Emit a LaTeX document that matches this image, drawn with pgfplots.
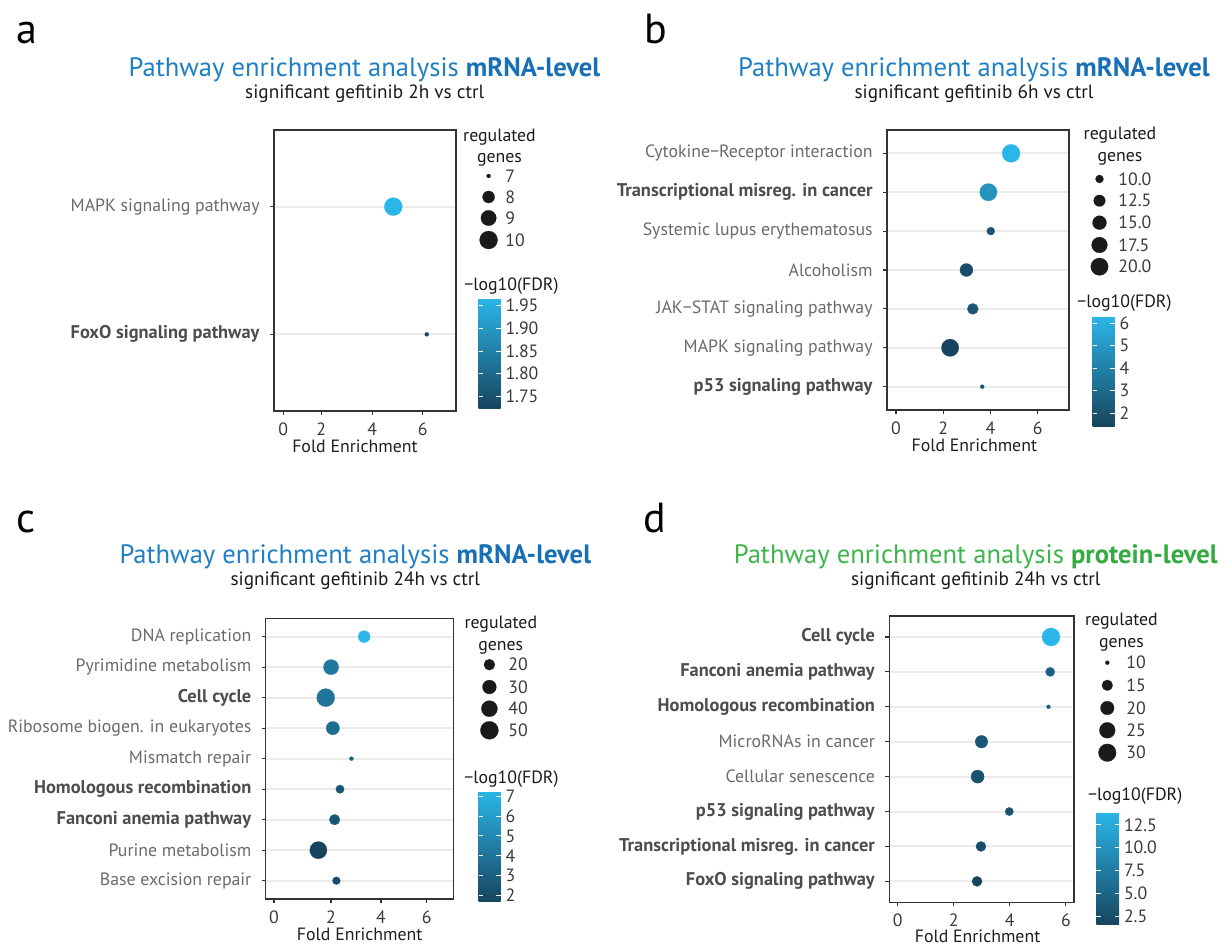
\documentclass[border=0pt]{standalone}
\usepackage{pgfplots}
\pgfplotsset{compat=1.18}
\usepackage{fontspec}
\setmainfont{PT Sans}
\definecolor{axisgray}{HTML}{333333}
\definecolor{gridgray}{HTML}{EBEBEB}
\definecolor{labgray}{HTML}{6A6A6A}
\definecolor{boldgray}{HTML}{4D4D4D}
\definecolor{ticktext}{HTML}{3A3A3A}
\definecolor{titleblue}{HTML}{1E7FC4}
\definecolor{titlebluebold}{HTML}{176FB6}
\definecolor{titlegreen}{HTML}{3DB54A}
\definecolor{titlegreenbold}{HTML}{33AB41}
\definecolor{legblack}{HTML}{1A1A1A}
\newcommand\tf{\fontsize{8.9}{10}\selectfont}
\newcommand\titlefont{\fontsize{13.3}{15}\selectfont}
\newcommand\subfont{\fontsize{9.6}{11}\selectfont}
\newcommand\letfont{\fontsize{21}{24}\selectfont}
\newcommand\nl[1]{\textcolor{labgray}{#1}}
\newcommand\bl[1]{\textcolor{boldgray}{\fontsize{9.2}{10}\selectfont\textbf{#1}}}
\pgfplotsset{
 panel/.style={
  scale only axis, anchor=south west,
  axis line style={draw=axisgray, line width=0.6pt},
  tick style={draw=axisgray, line width=0.6pt},
  tick align=outside, major tick length=2pt,
  xtick pos=bottom, ytick pos=left,
  ymajorgrids, major grid style={draw=gridgray, line width=1pt},
  ymin=0.4,
  xticklabels={0,2,4,6},
  xticklabel style={font=\tf, text=ticktext, inner sep=0pt, yshift=-3.9pt},
  yticklabel style={font=\tf, inner sep=0pt, xshift=-5pt},
  xlabel={Fold Enrichment},
  xlabel style={font=\tf, text=black!88, anchor=north, inner sep=0pt},
  colormap={fdr}{rgb255=(23,69,95) rgb255=(42,182,232)},
  colorbar,
  colorbar shift/.style={},
  colorbar style={
    width=11pt, at={(parent axis.north east)}, anchor=north west,
    axis line style={draw=none}, axis on top,
    ytick pos=both, yticklabel pos=right,
    tick align=inside, major tick length=2.2pt,
    tick style={draw=white, line width=0.5pt},
    yticklabel style={font=\tf, text=ticktext, inner sep=0pt, xshift=2.3pt},
  },
 },
 sizeleg/.style={
  scale only axis, anchor=south west, y dir=reverse,
  axis line style={draw=none}, xtick=\empty, major tick length=0pt,
  tick style={draw=none}, ytick pos=right, yticklabel pos=right,
  yticklabel style={font=\tf, text=ticktext, anchor=west, inner sep=0pt, xshift=1pt},
 },
 bubbles/.style={
  scatter, only marks, mark=*, point meta=explicit,
  scatter/use mapped color={draw=mapped color, fill=mapped color},
  mark options={line width=0.1pt},
 },
 legdots/.style={
  scatter, only marks, mark=*, point meta=\thisrow{g},
  scatter/use mapped color={draw=legblack, fill=legblack},
  mark options={line width=0.1pt},
 },
}
\begin{document}
\begin{tikzpicture}
\useasboundingbox (0,0) rectangle (614pt,-472.5pt);

% ---------------- Panel a ----------------
\node[anchor=base west, inner sep=0pt] at (7.85pt,-21.65pt) {\letfont a};
\node[anchor=base, inner sep=0pt] at (182.25pt,-38.35pt) {\titlefont\textcolor{titleblue}{Pathway enrichment analysis} \textcolor{titlebluebold}{\textbf{mRNA-level}}};
\node[anchor=base, inner sep=0pt, text=legblack] at (182.35pt,-49.15pt) {\subfont significant gefitinib 2h vs ctrl};
\begin{axis}[panel, at={(137pt,-205.5pt)}, width=91pt, height=140.5pt,
  xmin=0.134, xmax=7.314, xtick={0.5,2,4.01,6},
  ymax=2.6, ytick={1,2},
  yticklabels={\bl{FoxO signaling pathway},\nl{MAPK signaling pathway}},
  xlabel style={at={(axis description cs:0.445,0)}, yshift=-14.5pt},
  point meta min=1.724, point meta max=1.966,
  colorbar style={xshift=11.25pt, yshift=-84.15pt, height=55pt,
    ytick={1.75,1.8,1.85,1.9,1.95}, yticklabels={1.75,1.80,1.85,1.90,1.95}}]
\addplot[bubbles,
  visualization depends on={1+3.5*sqrt((\thisrow{g}-7)/3) \as \msz},
  scatter/@pre marker code/.append style={/tikz/mark size=\msz}]
  table[x=fe, y=y, meta=fdr] {
fe   y g  fdr
6.16 1 7  1.724
4.84 2 10 1.966
};
\end{axis}
\node[anchor=base west, inner sep=0pt, text=legblack] at (232pt,-145.3pt) {\tf −log10(FDR)};
\node[anchor=base, inner sep=0pt, text=legblack] at (249.75pt,-70.85pt) {\tf regulated};
\node[anchor=base, inner sep=0pt, text=legblack] at (249.75pt,-81.15pt) {\tf genes};
\begin{axis}[sizeleg, at={(239pt,-125pt)}, width=12.5pt, height=42pt,
  xmin=478, xmax=503, ymin=166, ymax=250,
  ytick={176,197,218,240}, yticklabels={7,8,9,10}]
\addplot[legdots,
  visualization depends on={1+3.5*sqrt((\thisrow{g}-7)/3) \as \msz},
  scatter/@pre marker code/.append style={/tikz/mark size=\msz}]
  table[x=x, y=y] {
x     y   g
488.6 176 7
488.6 197 8
488.6 218 9
488.6 240 10
};
\end{axis}

% ---------------- Panel b ----------------
\node[anchor=base west, inner sep=0pt] at (322.25pt,-21.65pt) {\letfont b};
\node[anchor=base, inner sep=0pt] at (487pt,-38.35pt) {\titlefont\textcolor{titleblue}{Pathway enrichment analysis} \textcolor{titlebluebold}{\textbf{mRNA-level}}};
\node[anchor=base, inner sep=0pt, text=legblack] at (487pt,-49.15pt) {\subfont significant gefitinib 6h vs ctrl};
\begin{axis}[panel, at={(443.5pt,-205pt)}, width=91pt, height=140pt,
  xmin=-0.38, xmax=7.32, xtick={0,2,4,6},
  ymax=7.6, ytick={1,...,7},
  yticklabels={\bl{p53 signaling pathway},\nl{MAPK signaling pathway},\nl{JAK−STAT signaling pathway},\nl{Alcoholism},\nl{Systemic lupus erythematosus},\bl{Transcriptional misreg. in cancer},\nl{Cytokine−Receptor interaction}},
  xlabel style={at={(axis description cs:0.48,0)}, yshift=-14.5pt},
  point meta min=1.40, point meta max=6.33,
  colorbar style={xshift=11.75pt, yshift=-93pt, height=55.35pt,
    ytick={2,3,4,5,6}, yticklabels={2,3,4,5,6}}]
\addplot[bubbles,
  visualization depends on={1+3.5*sqrt((\thisrow{g}-9)/12) \as \msz},
  scatter/@pre marker code/.append style={/tikz/mark size=\msz}]
  table[x=fe, y=y, meta=fdr] {
fe   y g  fdr
3.65 1 9  2.2
2.29 2 20 1.40
3.25 3 12 2.1
2.98 4 14 1.8
4.01 5 10 2.0
3.91 6 20 4.8
4.87 7 21 6.33
};
\end{axis}
\node[anchor=base west, inner sep=0pt, text=legblack] at (538.5pt,-154pt) {\tf −log10(FDR)};
\node[anchor=base, inner sep=0pt, text=legblack] at (560pt,-69.85pt) {\tf regulated};
\node[anchor=base, inner sep=0pt, text=legblack] at (560pt,-80.65pt) {\tf genes};
\begin{axis}[sizeleg, at={(545pt,-138.5pt)}, width=13pt, height=54pt,
  xmin=1090, xmax=1116, ymin=169, ymax=277,
  ytick={179,200.7,222.7,245,266.7}, yticklabels={10.0,12.5,15.0,17.5,20.0}]
\addplot[legdots,
  visualization depends on={1+3.5*sqrt((\thisrow{g}-9)/12) \as \msz},
  scatter/@pre marker code/.append style={/tikz/mark size=\msz}]
  table[x=x, y=y] {
x      y     g
1099.5 179   10
1099.5 200.7 12.5
1099.5 222.7 15
1099.5 245   17.5
1099.5 266.7 20
};
\end{axis}

% ---------------- Panel c ----------------
\node[anchor=base west, inner sep=0pt] at (7.85pt,-266.5pt) {\letfont c};
\node[anchor=base, inner sep=0pt] at (177.65pt,-281.7pt) {\titlefont\textcolor{titleblue}{Pathway enrichment analysis} \textcolor{titlebluebold}{\textbf{mRNA-level}}};
\node[anchor=base, inner sep=0pt, text=legblack] at (177.65pt,-292.65pt) {\subfont significant gefitinib 24h vs ctrl};
\begin{axis}[panel, at={(132.85pt,-449.5pt)}, width=94pt, height=140.35pt,
  xmin=-0.33, xmax=7.06, xtick={0,2.24,4.2,6},
  ymax=9.6, ytick={1,...,9},
  yticklabels={\nl{Base excision repair},\nl{Purine metabolism},\bl{Fanconi anemia pathway},\bl{Homologous recombination},\nl{Mismatch repair},\nl{Ribosome biogen. in eukaryotes},\bl{Cell cycle},\nl{Pyrimidine metabolism},\nl{DNA replication}},
  xlabel style={at={(axis description cs:0.5,0)}, yshift=-14.5pt},
  point meta min=1.70, point meta max=7.25,
  colorbar style={xshift=12.4pt, yshift=-86.5pt, height=55pt,
    ytick={2,3,4,5,6,7}, yticklabels={2,3,4,5,6,7}}]
\addplot[bubbles,
  visualization depends on={1+3.5*sqrt((\thisrow{g}-10)/40) \as \msz},
  scatter/@pre marker code/.append style={/tikz/mark size=\msz}]
  table[x=fe, y=y, meta=fdr] {
fe   y g  fdr
2.45 1 13 2.0
1.74 2 46 1.70
2.38 3 19 2.5
2.59 4 14 2.5
3.04 5 10 3.0
2.31 6 28 3.7
2.03 7 50 4.0
2.24 8 36 4.2
3.54 9 23 7.25
};
\end{axis}
\node[anchor=base west, inner sep=0pt, text=legblack] at (232pt,-391.65pt) {\tf −log10(FDR)};
\node[anchor=base, inner sep=0pt, text=legblack] at (250.4pt,-314.5pt) {\tf regulated};
\node[anchor=base, inner sep=0pt, text=legblack] at (250.4pt,-325.3pt) {\tf genes};
\begin{axis}[sizeleg, at={(240pt,-370.5pt)}, width=13pt, height=43.5pt,
  xmin=480, xmax=506, ymin=654, ymax=741,
  ytick={664.7,687,708.7,730.3}, yticklabels={20,30,40,50}]
\addplot[legdots,
  visualization depends on={1+3.5*sqrt((\thisrow{g}-10)/40) \as \msz},
  scatter/@pre marker code/.append style={/tikz/mark size=\msz}]
  table[x=x, y=y] {
x     y     g
489.4 664.7 20
489.4 687   30
489.4 708.7 40
489.4 730.3 50
};
\end{axis}

% ---------------- Panel d ----------------
\node[anchor=base west, inner sep=0pt] at (321.7pt,-266.5pt) {\letfont d};
\node[anchor=base, inner sep=0pt] at (487.9pt,-281.7pt) {\titlefont\textcolor{titlegreen}{Pathway enrichment analysis} \textcolor{titlegreenbold}{\textbf{protein-level}}};
\node[anchor=base, inner sep=0pt, text=legblack] at (487.9pt,-292.65pt) {\subfont significant gefitinib 24h vs ctrl};
\begin{axis}[panel, at={(444.65pt,-451.15pt)}, width=92.35pt, height=143.15pt,
  xmin=-0.30, xmax=6.29, xtick={0,2,4,6},
  ymax=8.6, ytick={1,...,8},
  yticklabels={\bl{FoxO signaling pathway},\bl{Transcriptional misreg. in cancer},\bl{p53 signaling pathway},\nl{Cellular senescence},\nl{MicroRNAs in cancer},\bl{Homologous recombination},\bl{Fanconi anemia pathway},\bl{Cell cycle}},
  xticklabel style={yshift=0.5pt},
  xlabel style={at={(axis description cs:0.478,0)}, yshift=-13.7pt},
  point meta min=1.58, point meta max=13.9,
  colorbar style={xshift=11.2pt, yshift=-98pt, height=56.35pt, width=11.3pt,
    ytick={2.5,5,7.5,10,12.5}, yticklabels={2.5,5.0,7.5,10.0,12.5}}]
\addplot[bubbles,
  visualization depends on={1+3.5*sqrt((\thisrow{g}-10)/21) \as \msz},
  scatter/@pre marker code/.append style={/tikz/mark size=\msz}]
  table[x=fe, y=y, meta=fdr] {
fe   y g  fdr
2.83 1 14 1.6
2.97 2 14 2.5
3.98 3 12 3.3
2.85 4 19 3.0
2.99 5 18 3.3
5.38 6 10 4.5
5.44 7 13 4.8
5.47 8 31 13.9
};
\end{axis}
\node[anchor=base west, inner sep=0pt, text=legblack] at (543.9pt,-400.3pt) {\tf −log10(FDR)};
\node[anchor=base, inner sep=0pt, text=legblack] at (560.75pt,-313pt) {\tf regulated};
\node[anchor=base, inner sep=0pt, text=legblack] at (560.75pt,-324pt) {\tf genes};
\begin{axis}[sizeleg, at={(549pt,-381.5pt)}, width=13pt, height=55.5pt,
  xmin=1098, xmax=1124, ymin=652, ymax=763,
  ytick={662.7,685.3,708,730.3,752.7}, yticklabels={10,15,20,25,30}]
\addplot[legdots,
  visualization depends on={1+3.5*sqrt((\thisrow{g}-10)/21) \as \msz},
  scatter/@pre marker code/.append style={/tikz/mark size=\msz}]
  table[x=x, y=y] {
x      y     g
1107.3 662.7 10
1107.3 685.3 15
1107.3 708   20
1107.3 730.3 25
1107.3 752.7 30
};
\end{axis}
\end{tikzpicture}
\end{document}
